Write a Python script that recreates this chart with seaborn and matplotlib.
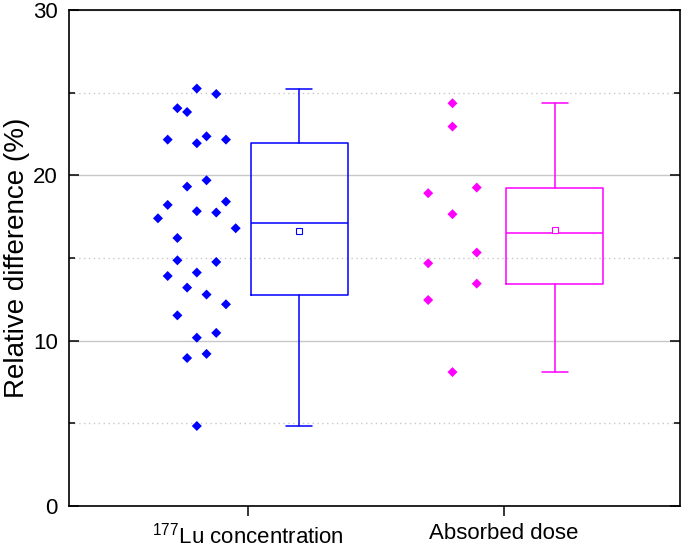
import numpy as np
import pandas as pd
import matplotlib
matplotlib.use('Agg')
import matplotlib.pyplot as plt
import seaborn as sns
from matplotlib.ticker import MultipleLocator

# Data (relative difference, %) - order inside each 2%-bin gives the left->right layout
groups = [r'$^{177}$Lu concentration', 'Absorbed dose']
lu_conc = [24.06, 25.25, 24.92,
           22.16, 23.83, 22.36, 22.16,
           21.94,
           18.21, 19.32, 19.70, 18.41,
           17.40, 16.21, 17.83, 17.75, 16.80,
           14.86, 14.12, 14.76,
           13.91, 13.21, 12.79, 12.20,
           11.53, 10.18, 10.47,
           8.95, 9.20,
           4.84]
abs_dose = [24.36, 22.95, 18.92, 19.26, 17.65, 14.68, 15.33, 12.46, 13.45, 8.10]
colors = ['#0000FF', '#FF00FF']

sns.set_theme(style='ticks')
plt.rcParams['font.family'] = ['Liberation Sans', 'DejaVu Sans']
plt.rcParams['mathtext.default'] = 'regular'
plt.rcParams.update({'text.color': 'black', 'axes.labelcolor': 'black',
                     'xtick.color': 'black', 'ytick.color': 'black'})

BOX_W = 0.38
SHIFT = 0.2


def spread(values, width=BOX_W, binw=2.0):
    # Origin-like "distribution" layout: points binned by value, spread sideways
    bins = np.floor(np.asarray(values) / binw).astype(int)
    counts = pd.Series(bins).value_counts()
    slot = width / counts.max()
    seen = {}
    offs = []
    for b in bins:
        i = seen.get(b, 0)
        seen[b] = i + 1
        offs.append((i - (counts[b] - 1) / 2) * slot)
    return np.array(offs)


rows = []
for pos, (name, vals) in enumerate(zip(groups, [lu_conc, abs_dose])):
    xs = pos - SHIFT + spread(vals)
    for x, v in zip(xs, vals):
        rows.append({'group': name, 'x': x, 'value': v})
df = pd.DataFrame(rows)

fig = plt.figure(figsize=(6.85, 5.48), dpi=100)
ax = fig.add_axes([69 / 685, 1 - 506 / 548, 611 / 685, 496 / 548])

sns.scatterplot(data=df, x='x', y='value', hue='group',
                palette=dict(zip(groups, colors)), marker='D', s=26,
                linewidth=0, legend=False, ax=ax, zorder=3)

for pos, (vals, c) in enumerate(zip([lu_conc, abs_dose], colors)):
    v = np.asarray(vals)
    q1, q3 = np.percentile(v, [25, 75], method='nearest')
    stats = dict(med=np.median(v), q1=q1, q3=q3, mean=v.mean(),
                 whislo=v.min(), whishi=v.max(), fliers=[])
    lp = dict(color=c, linewidth=1.1)
    ax.bxp([stats], positions=[pos + SHIFT], widths=BOX_W, capwidths=0.1,
           showmeans=True, showfliers=False, patch_artist=False,
           boxprops=lp, whiskerprops=lp, capprops=lp, medianprops=lp,
           meanprops=dict(marker='s', markerfacecolor='white',
                          markeredgecolor=c, markersize=4,
                          markeredgewidth=0.8),
           zorder=3)

ax.set_xlim(-0.70, 1.69)
ax.set_ylim(0, 30)
ax.set_xticks([0, 1])
ax.set_xticklabels(groups)
ax.set_yticks([0, 10, 20, 30])
ax.yaxis.set_minor_locator(MultipleLocator(5))
ax.set_xlabel('')
ax.set_ylabel('Relative difference (%)', fontsize=20, labelpad=2)

ax.set_axisbelow(True)
ax.grid(False)
ax.grid(which='major', axis='y', color='#c8c8c8', linewidth=1.0, linestyle='-')
ax.grid(which='minor', axis='y', color='#c8c8c8', linewidth=1.0,
        linestyle=(0, (1, 2.5)))

ax.tick_params(axis='y', which='major', direction='in', length=7, width=1.1,
               left=True, right=True, labelsize=16, pad=8)
ax.tick_params(axis='y', which='minor', direction='in', length=4, width=1.1,
               left=True, right=True)
ax.tick_params(axis='x', direction='out', length=7, width=1.1, top=False,
               bottom=True, labelsize=16, pad=5)
for sp in ax.spines.values():
    sp.set_visible(True)
    sp.set_color('black')
    sp.set_linewidth(1.2)

fig.savefig('out.png', dpi=100)
